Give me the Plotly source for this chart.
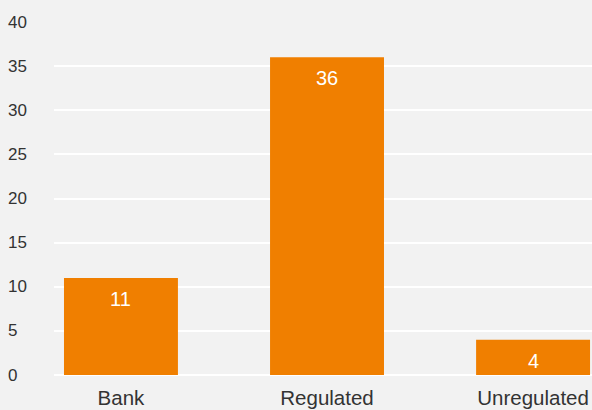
import plotly.graph_objects as go

categories = ["Bank", "Regulated", "Unregulated"]
values = [11, 36, 4]
y_ticks = [0, 5, 10, 15, 20, 25, 30, 35, 40]

BAR = "#f07f00"
BG = "#f2f2f2"
FONT = "Liberation Sans, Arial, sans-serif"

fig = go.Figure()
fig.add_trace(go.Bar(
    x=categories, y=values, marker_color=BAR, marker_line_width=0,
    width=0.553, hoverinfo="skip",
))

# Value labels just below each bar's top edge
for c, v in zip(categories, values):
    fig.add_annotation(x=c, y=v, text=str(v), showarrow=False, yanchor="middle",
                       yshift=-21, font=dict(family=FONT, size=20, color="white"))

# Left-aligned y tick labels
for t in y_ticks:
    fig.add_annotation(xref="paper", x=0, xshift=-48, y=t, yref="y", text=str(t),
                       showarrow=False, xanchor="left", yanchor="middle",
                       font=dict(family=FONT, size=17, color="#333333"))

fig.update_layout(
    width=592, height=410,
    margin=dict(l=54, r=0, t=22, b=35),
    paper_bgcolor=BG, plot_bgcolor=BG,
    showlegend=False,
    font=dict(family=FONT, size=18, color="#333333"),
    xaxis=dict(range=[-0.325, 2.286], showgrid=False, zeroline=False, showline=False,
               ticks="", ticklabelstandoff=8,
               tickfont=dict(size=20.5, color="#333333")),
    yaxis=dict(range=[0, 40], tickvals=y_ticks, showticklabels=False,
               gridcolor="white", gridwidth=2, zeroline=True, zerolinecolor="white",
               zerolinewidth=2, showline=False),
)

fig.write_html("out.html")
